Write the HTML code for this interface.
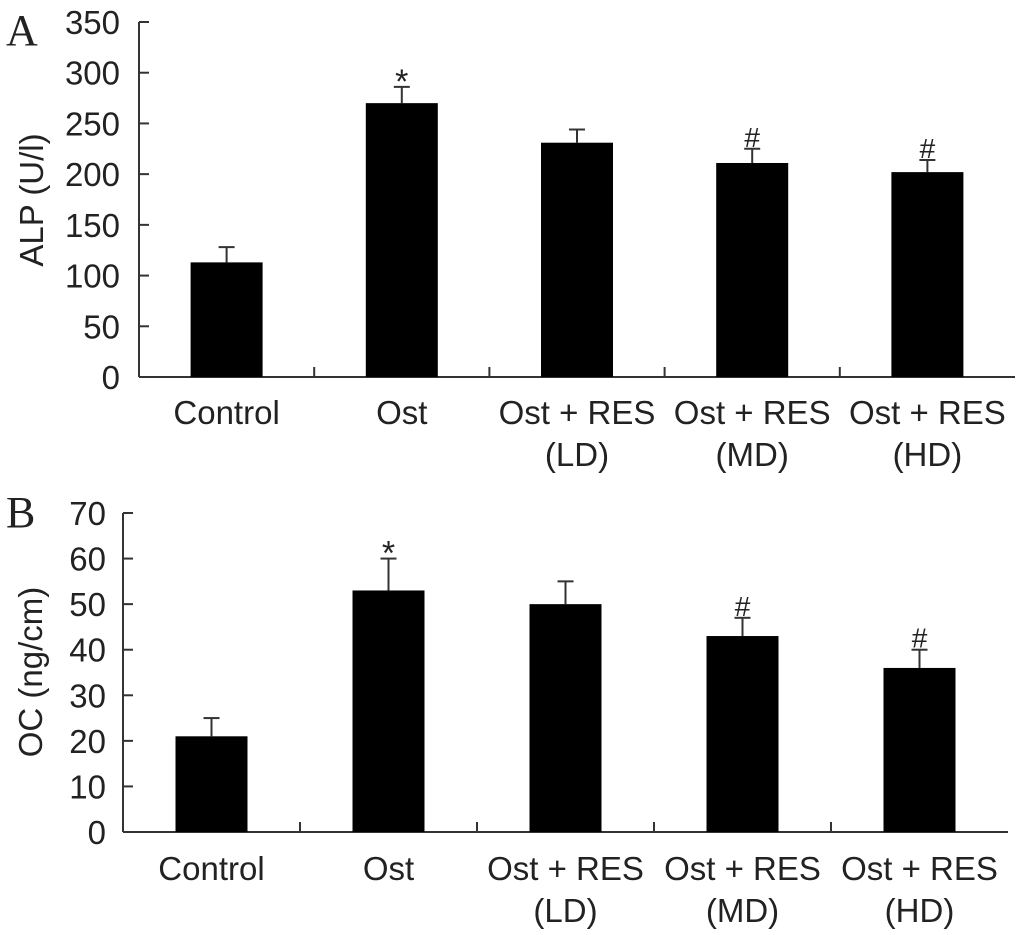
<!DOCTYPE html>
<html><head><meta charset="utf-8"><style>
body{margin:0;background:#fff;}
svg{display:block;font-family:"Liberation Sans",Arial,sans-serif;}
</style></head><body>
<svg id="c" width="1030" height="935"></svg>
<script>
const categories=[["Control"],["Ost"],["Ost + RES","(LD)"],["Ost + RES","(MD)"],["Ost + RES","(HD)"]];
const alpValues=[113,270,231,211,202];
const alpErrors=[15,16,13,14,12];
const alpMarks=["","*","","#","#"];
const alpTicks=[0,50,100,150,200,250,300,350];
const ocValues=[21,53,50,43,36];
const ocErrors=[4,7,5,4,4];
const ocMarks=["","*","","#","#"];
const ocTicks=[0,10,20,30,40,50,60,70];

const svg=document.getElementById('c');
const NS='http://www.w3.org/2000/svg';
const FS=33;
function mk(tag,attrs,parent){const e=document.createElementNS(NS,tag);for(const k in attrs)e.setAttribute(k,attrs[k]);(parent||svg).appendChild(e);return e;}

function panel(cfg){
  const g=mk('g',{});
  
  
  const {x0,x1,yTop,yZero,max}=cfg;
  const y=v=>yZero-(v/max)*(yZero-yTop);
  const bw=(x1-x0)/categories.length;
  const cx=i=>x0+bw*(i+0.5);
  const axY=mk('line',{x1:x0,y1:yTop,x2:x0,y2:yZero,stroke:'#333','stroke-width':2},g);
  
  
  const axX=mk('line',{x1:x0,y1:yZero,x2:x1,y2:yZero,stroke:'#333','stroke-width':2},g);
  
  
  cfg.ticks.forEach(t=>{
    const tl=mk('line',{x1:x0,y1:y(t),x2:x0+10,y2:y(t),stroke:'#333','stroke-width':2},g);
    
    
    const tx=mk('text',{x:cfg.tickX,y:y(t)+12,'text-anchor':'end','font-size':FS,fill:'#222'},g);
    tx.textContent=t;
    
    
  });
  for(let i=1;i<categories.length;i++){
    const tl=mk('line',{x1:x0+bw*i,y1:yZero,x2:x0+bw*i,y2:yZero-10,stroke:'#333','stroke-width':2},g);
    
    
  }
  const barW=72;
  cfg.values.forEach((v,i)=>{
    const top=y(v+cfg.errors[i]);
    const el=mk('line',{x1:cx(i),y1:top,x2:cx(i),y2:y(v),stroke:'#333','stroke-width':2},g);
    
    
    const ec=mk('line',{x1:cx(i)-8,y1:top,x2:cx(i)+8,y2:top,stroke:'#333','stroke-width':2},g);
    
    
    const r=mk('rect',{x:cx(i)-barW/2,y:y(v),width:barW,height:yZero-y(v),fill:'#000'},g);
    
    
    if(cfg.marks[i]){
      const isStar=cfg.marks[i]=='*';
      const m=mk('text',{x:cx(i),y:top+(isStar?6:-2),'text-anchor':'middle','font-size':isStar?34:28,fill:'#222'},g);
      m.textContent=cfg.marks[i];
      
      
    }
    categories[i].forEach((s,k)=>{
      const t=mk('text',{x:cx(i),y:cfg.labY+k*42,'text-anchor':'middle','font-size':FS,fill:'#222'},g);
      t.textContent=s;
      
      
    });
  });
  const yt=mk('text',{x:0,y:0,'text-anchor':'middle','font-size':FS,fill:'#222',transform:`translate(${cfg.titleX},${cfg.titleY}) rotate(-90)`},g);
  yt.textContent=cfg.title;
  
  
  const pl=mk('text',{x:6,y:cfg.letterY,'font-size':44,fill:'#222','font-family':'"Liberation Serif",serif'},g);
  pl.textContent=cfg.letter;
  
  
}
panel({name:'panel-a-alp',x0:139,x1:1015,yTop:22,yZero:377,max:350,values:alpValues,errors:alpErrors,marks:alpMarks,ticks:alpTicks,tickX:120,labY:424,title:'ALP (U/l)',titleX:43,titleY:200,letter:'A',letterY:45});
panel({name:'panel-b-oc',x0:123,x1:1008,yTop:513,yZero:832,max:70,values:ocValues,errors:ocErrors,marks:ocMarks,ticks:ocTicks,tickX:106,labY:880,title:'OC (ng/cm)',titleX:42,titleY:672,letter:'B',letterY:527});
</script>
</body></html>
